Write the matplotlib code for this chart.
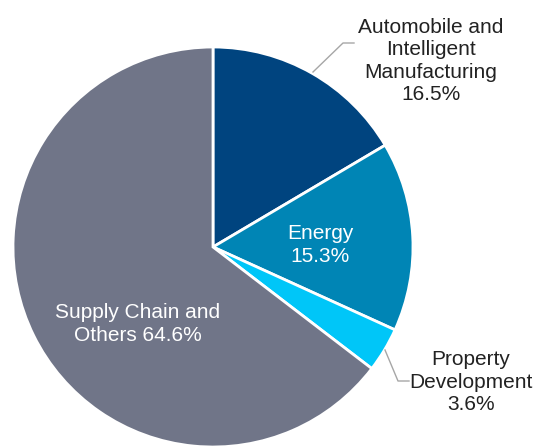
import matplotlib
matplotlib.use("Agg")
import matplotlib.pyplot as plt

categories = ["Automobile and\nIntelligent\nManufacturing", "Energy", "Property\nDevelopment", "Supply Chain and\nOthers"]
values = [16.5, 15.3, 3.6, 64.6]
colors = ["#00447F", "#0085B5", "#00C6F8", "#707588"]

plt.rcParams['font.family'] = ['Liberation Sans', 'DejaVu Sans']

W, H = 536, 446
cx, cy, R = 213, 247, 200

fig = plt.figure(figsize=(W / 100, H / 100), dpi=100)
ax = fig.add_axes([0, 0, 1, 1])
ax.pie(values, colors=colors, startangle=90, counterclock=False, radius=1,
       wedgeprops=dict(edgecolor="white", linewidth=2))
ax.set_xlim(-cx / R, (W - cx) / R)
ax.set_ylim(-(H - cy) / R, cy / R)
ax.set_aspect("equal")
ax.axis("off")

def d(px, py):
    return (px - cx) / R, (cy - py) / R

fs = 15
ls = 1.22
dark = "#222222"
line_c = "#A6A6A6"

# Automobile label with connector
p0, p1, p2 = d(313, 72), d(343, 43), d(354, 43)
ax.plot([p0[0], p1[0], p2[0]], [p0[1], p1[1], p2[1]], color=line_c, lw=1)
tx, ty = d(431, 61)
ax.text(tx, ty, f"{categories[0]}\n{values[0]}%", ha="center", va="center",
        fontsize=fs, color=dark, linespacing=ls)

# Property label with connector
p0, p1, p2 = d(385, 350), d(398, 381), d(409, 381)
ax.plot([p0[0], p1[0], p2[0]], [p0[1], p1[1], p2[1]], color=line_c, lw=1)
tx, ty = d(471, 382)
ax.text(tx, ty, f"{categories[2]}\n{values[2]}%", ha="center", va="center",
        fontsize=fs, color=dark, linespacing=ls)

# Inside labels
tx, ty = d(320, 245)
ax.text(tx, ty, f"{categories[1]}\n{values[1]}%", ha="center", va="center",
        fontsize=fs, color="white", linespacing=ls)
tx, ty = d(138, 324)
ax.text(tx, ty, f"{categories[3]} {values[3]}%", ha="center", va="center",
        fontsize=fs, color="white", linespacing=ls)

fig.savefig("out.png", dpi=100)
